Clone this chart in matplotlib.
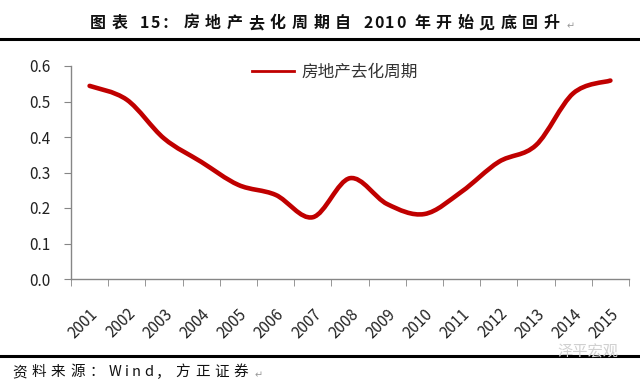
import numpy as np
import matplotlib
matplotlib.use("Agg")
import matplotlib.pyplot as plt
from matplotlib.path import Path
from matplotlib.patches import PathPatch
from matplotlib.lines import Line2D

plt.rcParams['font.family'] = ['Noto Sans CJK SC', 'DejaVu Sans']

years = ["2001", "2002", "2003", "2004", "2005", "2006", "2007", "2008",
         "2009", "2010", "2011", "2012", "2013", "2014", "2015"]
cycle = [0.544, 0.505, 0.396, 0.330, 0.265, 0.237, 0.174, 0.284,
         0.211, 0.183, 0.246, 0.330, 0.377, 0.523, 0.559]

title = "图表 15：房地产去化周期自 2010 年开始见底回升"
series_name = "房地产去化周期"
source = "资料来源：Wind，方正证券"

red = "#C00000"
grey = "#868686"
W, H = 640, 388

fig = plt.figure(figsize=(6.4, 3.88), dpi=100)
renderer = fig.canvas.get_renderer()
ax = fig.add_axes([71/W, 1-279/H, (629-71)/W, (279-66)/H])

# smoothed line like Excel's "smooth line" option (cubic bezier through the points)
x = np.arange(len(cycle), dtype=float)
y = np.array(cycle)
px = np.concatenate([[x[0]], x, [x[-1]]])
py = np.concatenate([[y[0]], y, [y[-1]]])
verts = [(x[0], y[0])]
codes = [Path.MOVETO]
for i in range(1, len(px) - 2):
    c1 = (px[i] + (px[i+1] - px[i-1]) / 6, py[i] + (py[i+1] - py[i-1]) / 6)
    c2 = (px[i+1] - (px[i+2] - px[i]) / 6, py[i+1] - (py[i+2] - py[i]) / 6)
    verts += [c1, c2, (px[i+1], py[i+1])]
    codes += [Path.CURVE4] * 3
ax.add_patch(PathPatch(Path(verts, codes), facecolor="none", edgecolor=red,
                       linewidth=3.3, capstyle="round", joinstyle="round"))

ax.set_xlim(-0.5, len(years) - 0.5)
ax.set_ylim(0, 0.6)
ax.set_yticks(np.arange(0, 0.61, 0.1))
ax.set_yticklabels(["%.1f" % v for v in np.arange(0, 0.61, 0.1)])
ax.set_xticks(x)
ax.set_xticklabels(years, rotation=45, ha="right", va="top", rotation_mode="anchor")
ax.set_xticks(np.arange(-0.5, len(years)), minor=True)
ax.tick_params(axis="x", which="major", length=0, pad=19, labelsize=11, labelcolor="#222222")
ax.tick_params(axis="x", which="minor", length=5, color=grey, direction="out")
ax.tick_params(axis="y", length=5, color=grey, labelsize=11, labelcolor="#222222", pad=10)
for s in ["top", "right"]:
    ax.spines[s].set_visible(False)
for s in ["left", "bottom"]:
    ax.spines[s].set_color(grey)
    ax.spines[s].set_linewidth(1.0)

handle = Line2D([], [], color=red, linewidth=2)
leg = fig.legend([handle], [series_name], loc="center left", bbox_to_anchor=(252/W, 1-72/H),
                 frameon=False, fontsize=12, handlelength=2.5, handletextpad=0.45,
                 borderaxespad=0, borderpad=0)
for t in leg.get_texts():
    t.set_color("#333333")


def spaced_text(x0, y0, s, size, gap, latin_gap, space, **kw):
    # Word-style character spacing: place glyphs one by one (pixel coords)
    xp = x0
    for ch in s:
        if ch == " ":
            xp += space
            continue
        t = fig.text(xp/W, 1-y0/H, ch, ha="left", va="center", fontsize=size, **kw)
        w = t.get_window_extent(renderer).width
        xp += w + (gap if ord(ch) > 0x2000 else latin_gap)
    return xp


# page decorations
end = spaced_text(90, 23, title, 11.5, 5.6, 1.5, 7, fontweight="bold", color="#111111")
fig.text((end + 1)/W, 1-26/H, "↵", ha="left", va="center", fontsize=7, color="#999999")
fig.add_artist(Line2D([0, 1], [1-39/H, 1-39/H], color="black", linewidth=2.2))
fig.add_artist(Line2D([0, 1], [1-356/H, 1-356/H], color="black", linewidth=2.2))
end = spaced_text(12, 372, source, 10.5, 4.8, 3, 5, color="#111111")
fig.text((end + 1)/W, 1-375/H, "↵", ha="left", va="center", fontsize=7, color="#999999")
fig.text(557/W, 1-352/H, "泽平宏观", ha="left", va="center", fontsize=11,
         color="#d0d0d0")

fig.savefig("out.png", dpi=100)
